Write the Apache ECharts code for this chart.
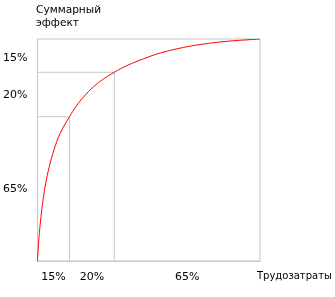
<!DOCTYPE html>
<html><head><meta charset="utf-8">
<script src="https://cdn.jsdelivr.net/npm/echarts@6/dist/echarts.min.js"></script>
<style>html,body{margin:0;padding:0;background:#fff}#c{width:335px;height:297px}</style>
</head><body><div id="c"></div>
<script>
// Curve: cumulative effect (%) vs. labour (%)
var curveX = [0, 0.3, 0.85, 1.6, 2.5, 3.7, 5.2, 7.4, 10.2, 14.4, 17.4, 20.8, 25.2, 29.7, 34.5, 40.2, 47.7, 55.2, 65.6, 73.1, 80.6, 88, 95.5, 100];
var curveY = [0, 5, 12.5, 20, 27.5, 35, 42, 50, 57.5, 65, 69.7, 74, 78.5, 82, 85, 88, 91.1, 93.7, 96.2, 97.5, 98.5, 99.2, 99.7, 100];
// Guide lines (break points)
var guideX = [14.4, 34.5];
var guideY = [65, 85];
// Segment labels
var xLabelPos = [7.2, 24.5, 67.3];
var xLabels = ['15%', '20%', '65%'];
var yLabelPos = [91.5, 74.5, 32.5];
var yLabels = ['15%', '20%', '65%'];
var yTitle = 'Суммарный\nэффект';
var xTitle = 'Трудозатраты';

var curve = curveX.map(function (x, i) { return [x, curveY[i]]; });
var guides = guideX.map(function (gx, i) {
  return {
    type: 'line', silent: true, symbol: 'none', z: 1,
    lineStyle: { color: '#c8c8c8', width: 1 },
    data: [[gx, 0], [gx, guideY[i]], [0, guideY[i]]]
  };
});
var xl = {}; xLabelPos.forEach(function (v, i) { xl[v] = xLabels[i]; });
var yl = {}; yLabelPos.forEach(function (v, i) { yl[v] = yLabels[i]; });
var font = 'DejaVu Sans';

var chart = echarts.init(document.getElementById('c'), null, { renderer: 'canvas' });
chart.setOption({
  animation: false,
  grid: { left: 37, top: 39, right: 75, bottom: 36, show: true, borderColor: '#c8c8c8', borderWidth: 1 },
  xAxis: {
    type: 'value', min: 0, max: 100,
    axisLine: { show: true, lineStyle: { color: '#c8c8c8' } },
    axisTick: { show: false }, splitLine: { show: false },
    axisLabel: { customValues: xLabelPos, formatter: function (v) { return xl[v] || ''; },
      color: '#000', fontFamily: font, fontSize: 11, margin: 11 }
  },
  yAxis: {
    type: 'value', min: 0, max: 100,
    axisLine: { show: true, lineStyle: { color: '#c8c8c8' } },
    axisTick: { show: false }, splitLine: { show: false },
    axisLabel: { customValues: yLabelPos, formatter: function (v) { return yl[v] || ''; },
      color: '#000', fontFamily: font, fontSize: 11, margin: 10 }
  },
  graphic: [
    { type: 'text', left: 36, top: 4, style: { text: yTitle, fill: '#000', font: '10.6px "DejaVu Sans"', lineHeight: 13 } },
    { type: 'text', left: 257, top: 271, style: { text: xTitle, fill: '#000', font: '10px "DejaVu Sans"' } }
  ],
  series: guides.concat([{
    type: 'line', data: curve, symbol: 'none', smooth: 0.4, z: 3,
    lineStyle: { color: '#ff0000', width: 1 }
  }])
});
</script></body></html>
